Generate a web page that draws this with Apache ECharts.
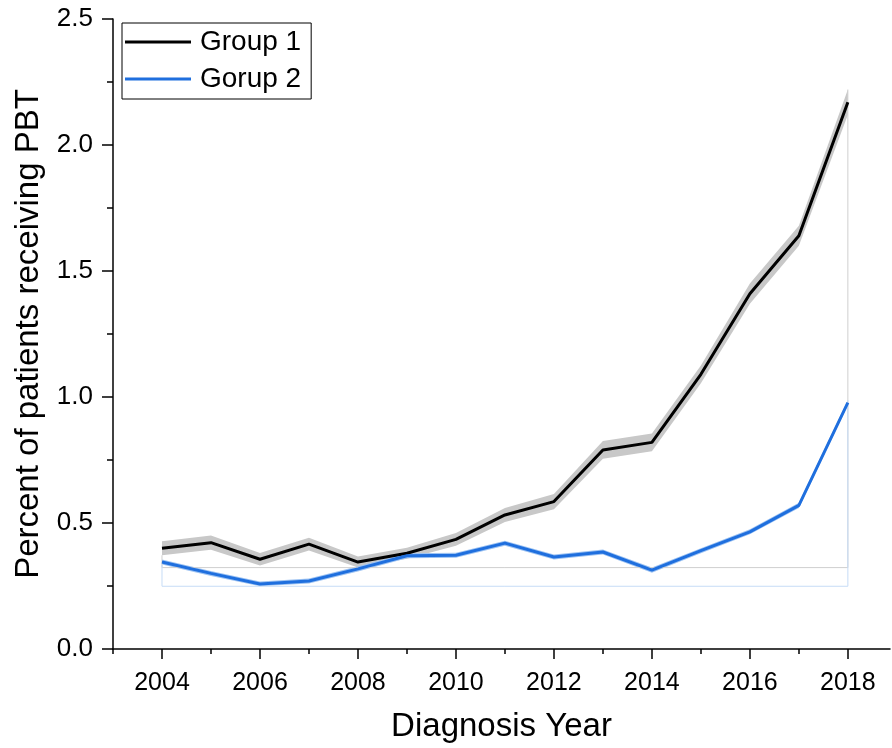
<!DOCTYPE html>
<html>
<head>
<meta charset="utf-8">
<script src="https://cdn.jsdelivr.net/npm/echarts@6/dist/echarts.min.js"></script>
<style>
  html, body { margin: 0; padding: 0; background: #fff; }
  #chart { width: 892px; height: 748px; }
</style>
</head>
<body>
<div id="chart"></div>
<script>
// ---- data ----
const years = [2004, 2005, 2006, 2007, 2008, 2009, 2010, 2011, 2012, 2013, 2014, 2015, 2016, 2017, 2018];
const group1 = [0.400, 0.422, 0.356, 0.416, 0.345, 0.380, 0.435, 0.532, 0.585, 0.790, 0.820, 1.090, 1.410, 1.640, 2.170];
const group1Lo = [0.372, 0.394, 0.331, 0.391, 0.323, 0.358, 0.410, 0.504, 0.555, 0.755, 0.785, 1.055, 1.370, 1.600, 2.120];
const group1Hi = [0.428, 0.450, 0.381, 0.441, 0.367, 0.402, 0.460, 0.560, 0.615, 0.825, 0.855, 1.125, 1.450, 1.680, 2.220];
const group2 = [0.345, 0.300, 0.258, 0.270, 0.318, 0.370, 0.372, 0.420, 0.365, 0.385, 0.313, 0.390, 0.465, 0.570, 0.978];
const group2Lo = [0.335, 0.290, 0.249, 0.260, 0.308, 0.360, 0.362, 0.410, 0.355, 0.375, 0.303, 0.380, 0.455, 0.560, 0.968];
const group2Hi = [0.355, 0.310, 0.268, 0.280, 0.328, 0.380, 0.382, 0.430, 0.375, 0.395, 0.323, 0.400, 0.475, 0.580, 0.988];
const majorYearTicks = [2004, 2006, 2008, 2010, 2012, 2014, 2016, 2018];
const minorYearTicks = [2003, 2005, 2007, 2009, 2011, 2013, 2015, 2017];
const seriesNames = ['Group 1', 'Gorup 2'];

// ---- build options ----
const FONT = 'Liberation Sans, Arial, sans-serif';
const pairs = (ys) => years.map((y, i) => [y, ys[i]]);
const last = years.length - 1;
const outline = (lo, hi, base) => [
  [years[0], lo[0]], [years[0], base], [years[last], base], [years[last], hi[last]]
];
const min1 = Math.min(...group1Lo);
const min2 = Math.min(...group2Lo);

function bandSeries(name, lo, hi, color) {
  return {
    name: name,
    type: 'custom',
    silent: true,
    data: [[years[0], lo[0]]],
    renderItem: function (params, api) {
      const pts = [];
      for (let i = 0; i < years.length; i++) pts.push(api.coord([years[i], hi[i]]));
      for (let i = years.length - 1; i >= 0; i--) pts.push(api.coord([years[i], lo[i]]));
      return { type: 'polygon', shape: { points: pts }, style: { fill: color, stroke: null } };
    }
  };
}

const chart = echarts.init(document.getElementById('chart'), null, { renderer: 'canvas' });
const option = {
  animation: false,
  backgroundColor: '#ffffff',
  grid: { left: 113, right: 2, top: 19, bottom: 99, containLabel: false, outerBoundsMode: 'none' },
  legend: {
    orient: 'vertical',
    left: 122,
    top: 23,
    data: seriesNames,
    icon: 'rect',
    itemWidth: 66,
    itemHeight: 3,
    itemGap: 9,
    padding: [5, 10, 6, 3],
    borderColor: '#000',
    borderWidth: 1,
    selectedMode: false,
    textStyle: { fontSize: 28, fontFamily: FONT, color: '#000', padding: [0, 0, 0, 4] }
  },
  xAxis: [
    {
      type: 'value',
      min: 2003,
      max: 2018.86,
      name: 'Diagnosis Year',
      nameLocation: 'middle',
      nameGap: 61,
      nameTextStyle: { fontSize: 33, fontFamily: FONT, color: '#000' },
      axisLine: { show: true, onZero: false, lineStyle: { color: '#000', width: 1.5 } },
      axisTick: { show: true, customValues: majorYearTicks, length: 10, lineStyle: { color: '#000', width: 1.5 } },
      axisLabel: { customValues: majorYearTicks, fontSize: 25, fontFamily: FONT, color: '#000', margin: 22, formatter: (v) => String(v) },
      splitLine: { show: false }
    },
    {
      type: 'value',
      min: 2003,
      max: 2018.86,
      position: 'bottom',
      axisLine: { show: false },
      axisTick: { show: true, customValues: minorYearTicks, length: 5, lineStyle: { color: '#000', width: 1.5 } },
      axisLabel: { show: false },
      splitLine: { show: false }
    }
  ],
  yAxis: {
    type: 'value',
    min: 0,
    max: 2.5,
    interval: 0.5,
    name: 'Percent of patients receiving PBT',
    nameLocation: 'middle',
    nameGap: 68,
    nameTextStyle: { fontSize: 33, fontFamily: FONT, color: '#000' },
    axisLine: { show: true, onZero: false, lineStyle: { color: '#000', width: 1.5 } },
    axisTick: { show: true, length: 11, lineStyle: { color: '#000', width: 1.5 } },
    minorTick: { show: true, splitNumber: 2, length: 6, lineStyle: { color: '#000', width: 1.5 } },
    axisLabel: { fontSize: 26, fontFamily: FONT, color: '#000', margin: 20, formatter: (v) => v.toFixed(1) },
    splitLine: { show: false },
    minorSplitLine: { show: false }
  },
  series: [
    {
      name: 'g1-outline', type: 'line', data: outline(group1Lo, group1Hi, min1),
      symbol: 'none', silent: true, lineStyle: { color: '#cfcfcf', width: 1 }
    },
    {
      name: 'g2-outline', type: 'line', data: outline(group2Lo, group2Hi, min2),
      symbol: 'none', silent: true, lineStyle: { color: '#c6dcf6', width: 1 }
    },
    bandSeries('g1-band', group1Lo, group1Hi, '#c8c8c8'),
    {
      name: 'Group 1', type: 'line', data: pairs(group1),
      symbol: 'none', color: '#000000', lineStyle: { color: '#000000', width: 3 }
    },
    bandSeries('g2-band', group2Lo, group2Hi, '#9cc2f2'),
    {
      name: 'Gorup 2', type: 'line', data: pairs(group2),
      symbol: 'none', color: '#1f6fde', lineStyle: { color: '#1f6fde', width: 3 }
    }
  ]
};
chart.setOption(option);
</script>
</body>
</html>
